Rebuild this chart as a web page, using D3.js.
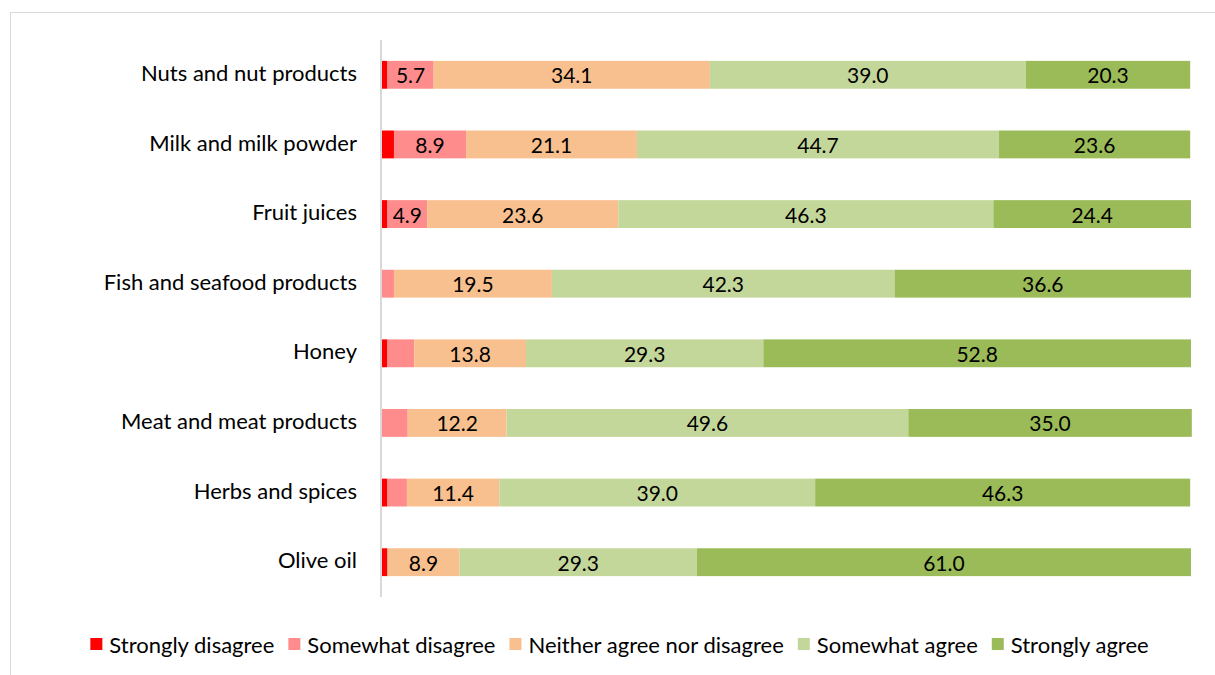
<!DOCTYPE html>
<html>
<head>
<meta charset="utf-8">
<script src="https://cdn.jsdelivr.net/npm/d3@7"></script>
<style>
  html, body { margin: 0; padding: 0; background: #fff; }
  svg { display: block; }
  text { font-family: Lato, "Open Sans", sans-serif; fill: #000; }
</style>
</head>
<body>
<svg id="chart" width="1215" height="675"></svg>
<script>
// Share of respondents (%) per product and level of agreement
const categories = [
  "Nuts and nut products",
  "Milk and milk powder",
  "Fruit juices",
  "Fish and seafood products",
  "Honey",
  "Meat and meat products",
  "Herbs and spices",
  "Olive oil"
];
const seriesNames = [
  "Strongly disagree",
  "Somewhat disagree",
  "Neither agree nor disagree",
  "Somewhat agree",
  "Strongly agree"
];
const stronglyDisagree = [0.8, 1.6, 0.8, 0.0, 0.8, 0.0, 0.8, 0.8];
const somewhatDisagree = [5.7, 8.9, 4.9, 1.6, 3.3, 3.3, 2.4, 0.0];
const neitherAgree     = [34.1, 21.1, 23.6, 19.5, 13.8, 12.2, 11.4, 8.9];
const somewhatAgree    = [39.0, 44.7, 46.3, 42.3, 29.3, 49.6, 39.0, 29.3];
const stronglyAgree    = [20.3, 23.6, 24.4, 36.6, 52.8, 35.0, 46.3, 61.0];
const colors = ["#FF0000", "#FF8C8C", "#F9C08F", "#C4D79B", "#9BBB59"];

const seriesValues = [stronglyDisagree, somewhatDisagree, neitherAgree, somewhatAgree, stronglyAgree];
const rows = categories.map((c, i) => {
  const r = { category: c };
  seriesNames.forEach((s, k) => { r[s] = seriesValues[k][i]; });
  return r;
});

const svg = d3.select("#chart");

// outer chart frame
svg.append("rect")
  .attr("x", 10.5).attr("y", 12.5)
  .attr("width", 1230).attr("height", 700)
  .attr("fill", "none").attr("stroke", "#d9d9d9").attr("stroke-width", 1);

const plot = { left: 381, right: 1191, top: 40, bottom: 597 };

const x = d3.scaleLinear().domain([0, 100]).range([plot.left, plot.right]);
const y = d3.scaleBand().domain(categories).range([plot.top, plot.bottom]).paddingInner(0.6).paddingOuter(0.3);

const stack = d3.stack().keys(seriesNames);
const layers = stack(rows);

const g = svg.append("g");
layers.forEach((layer, k) => {
  const lg = g.append("g").attr("fill", colors[k]);
  lg.selectAll("rect")
    .data(layer)
    .join("rect")
    .attr("x", d => x(d[0]))
    .attr("y", d => y(d.data.category))
    .attr("width", d => Math.max(0, x(d[1]) - x(d[0])))
    .attr("height", y.bandwidth());
  lg.selectAll("text")
    .data(layer.filter(d => d[1] - d[0] >= 4))
    .join("text")
    .attr("x", d => (x(d[0]) + x(d[1])) / 2)
    .attr("y", d => y(d.data.category) + y.bandwidth() / 2)
    .attr("text-anchor", "middle")
    .attr("dominant-baseline", "central")
    .attr("font-size", 21)
    .text(d => (d[1] - d[0]).toFixed(1));
});

// category axis
const yAxis = d3.axisLeft(y).tickSize(0).tickPadding(24);
const ax = svg.append("g").attr("transform", `translate(${plot.left},0)`).call(yAxis);
ax.select(".domain").attr("stroke", "#d9d9d9").attr("stroke-width", 2)
  .attr("d", `M0,${plot.top}V${plot.bottom}`);
ax.selectAll("text").attr("font-size", 22).attr("fill", "#000")
  .attr("dy", "0.28em")
  .style("font-family", "Lato, 'Open Sans', sans-serif");

// legend
const legend = svg.append("g");
let lx = 0;
seriesNames.forEach((s, k) => {
  const it = legend.append("g").attr("transform", `translate(${lx},0)`);
  it.append("rect").attr("x", 0).attr("y", -6).attr("width", 12).attr("height", 12).attr("fill", colors[k]);
  const t = it.append("text").attr("x", 19).attr("y", 0)
    .attr("dominant-baseline", "central").attr("font-size", 22).text(s);
  lx += 19 + t.node().getComputedTextLength() + 14;
});
const legendWidth = lx - 14;
legend.attr("transform", `translate(${(84 + 1155) / 2 - legendWidth / 2},644)`);
</script>
</body>
</html>
